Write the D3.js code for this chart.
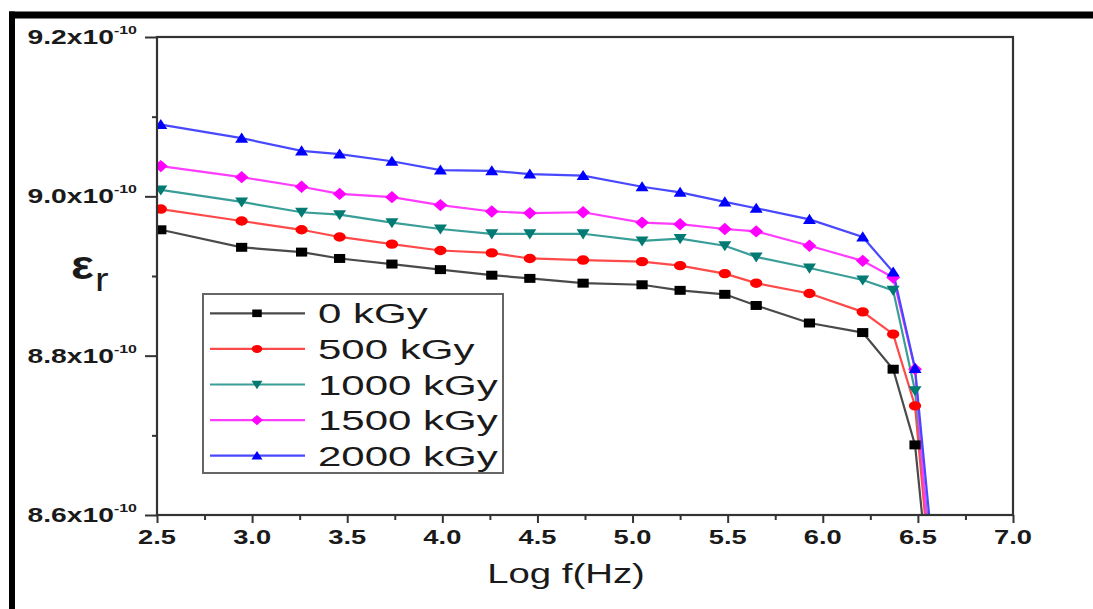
<!DOCTYPE html>
<html>
<head>
<meta charset="utf-8">
<script src="https://cdn.jsdelivr.net/npm/d3@7"></script>
<style>
  html, body { margin: 0; padding: 0; background: #ffffff; }
  svg { display: block; }
  text { font-family: Arial, "Liberation Sans", sans-serif; fill: #1a1a1a; }
</style>
</head>
<body>
<svg id="chart" width="1093" height="609"></svg>
<script>
// ---- data (values in units of 1e-10) ----
const logF = [2.52, 2.945, 3.26, 3.46, 3.735, 3.99, 4.26, 4.46, 4.74, 5.05, 5.25, 5.485, 5.65, 5.93, 6.21, 6.37, 6.485, 6.62];
const series0 = [8.958, 8.936, 8.930, 8.922, 8.915, 8.908, 8.901, 8.897, 8.891, 8.889, 8.882, 8.877, 8.863, 8.841, 8.829, 8.783, 8.688, 8.367];
const series500 = [8.984, 8.969, 8.958, 8.949, 8.940, 8.932, 8.929, 8.922, 8.920, 8.918, 8.913, 8.903, 8.891, 8.878, 8.855, 8.827, 8.737, 8.383];
const series1000 = [9.008, 8.993, 8.980, 8.977, 8.967, 8.959, 8.953, 8.953, 8.953, 8.944, 8.947, 8.938, 8.924, 8.910, 8.895, 8.882, 8.756, 8.423];
const series1500 = [9.038, 9.024, 9.012, 9.003, 8.999, 8.989, 8.981, 8.979, 8.980, 8.967, 8.965, 8.959, 8.956, 8.938, 8.919, 8.898, 8.783, 8.363];
const series2000 = [9.090, 9.073, 9.057, 9.053, 9.044, 9.033, 9.032, 9.028, 9.026, 9.012, 9.005, 8.993, 8.985, 8.971, 8.949, 8.905, 8.784, 8.449];
const seriesNames = ["0 kGy", "500 kGy", "1000 kGy", "1500 kGy", "2000 kGy"];
const xTicks = [2.5, 3.0, 3.5, 4.0, 4.5, 5.0, 5.5, 6.0, 6.5, 7.0];
const yTicks = [8.6, 8.8, 9.0, 9.2];
const yTickLabels = ["8.6x10", "8.8x10", "9.0x10", "9.2x10"];
const yExponent = "-10";
const xTitle = "Log f(Hz)";

// ---- styles ----
const lineColors = ["#4a4a4a", "#ff4a4a", "#3a9e98", "#ff3cff", "#4848ff"];
const markColors = ["#000000", "#ff0000", "#007a72", "#ff00ff", "#0000ff"];
const shapes = ["square", "circle", "tridown", "diamond", "triup"];

const svg = d3.select("#chart");
const plot = { left: 157, right: 1013, top: 37, bottom: 515 };
const x = d3.scaleLinear().domain([2.5, 7.0]).range([plot.left, plot.right]);
const y = d3.scaleLinear().domain([8.6, 9.2]).range([plot.bottom, plot.top]);

const allSeries = [series0, series500, series1000, series1500, series2000];

function markerPath(shape, s) {
  s = s || 1;
  switch (shape) {
    case "square": return `M${-5*s},${-4*s}H${5*s}V${4*s}H${-5*s}Z`;
    case "circle": return `M${-5.5*s},0A${5.5*s},${4.2*s} 0 1,0 ${5.5*s},0A${5.5*s},${4.2*s} 0 1,0 ${-5.5*s},0Z`;
    case "triup": return `M0,${-5*s}L${5.8*s},${4*s}L${-5.8*s},${4*s}Z`;
    case "tridown": return `M0,${5*s}L${5.8*s},${-4*s}L${-5.8*s},${-4*s}Z`;
    case "diamond": return `M0,${-5.5*s}L${6.2*s},0L0,${5.5*s}L${-6.2*s},0Z`;
  }
}

// outer frame
svg.append("line").attr("x1", 9).attr("x2", 1093).attr("y1", 15).attr("y2", 15)
  .attr("stroke", "#000").attr("stroke-width", 7);
svg.append("line").attr("x1", 12).attr("x2", 12).attr("y1", 11.5).attr("y2", 609)
  .attr("stroke", "#000").attr("stroke-width", 6);

// clip
svg.append("defs").append("clipPath").attr("id", "clip")
  .append("rect").attr("x", plot.left).attr("y", plot.top)
  .attr("width", plot.right - plot.left).attr("height", plot.bottom - plot.top);

// series
const g = svg.append("g").attr("clip-path", "url(#clip)");
const line = d3.line().x((d, i) => x(logF[i])).y(d => y(d));
allSeries.forEach((vals, k) => {
  g.append("path").datum(vals).attr("d", line)
    .attr("fill", "none").attr("stroke", lineColors[k]).attr("stroke-width", 2.2);
});
allSeries.forEach((vals, k) => {
  g.selectAll(null).data(vals).enter().append("path")
    .attr("d", markerPath(shapes[k], 1.12))
    .attr("transform", (d, i) => `translate(${x(logF[i])},${y(d)})`)
    .attr("fill", markColors[k]);
});

// axes
const axisColor = "#333";
const xAxis = d3.axisBottom(x).tickValues(xTicks).tickSize(8).tickFormat("");
const xMinor = d3.axisBottom(x).tickValues(xTicks.slice(0, -1).map(v => v + 0.25)).tickSize(5).tickFormat("");
const yAxis = d3.axisLeft(y).tickValues(yTicks).tickSize(12).tickFormat("");
const yMinor = d3.axisLeft(y).tickValues([8.7, 8.9, 9.1]).tickSize(5).tickFormat("");

function styleAxis(sel) {
  sel.select(".domain").remove();
  sel.selectAll("line").attr("stroke", axisColor).attr("stroke-width", 2);
}
svg.append("g").attr("transform", `translate(0,${plot.bottom})`).call(xAxis).call(styleAxis);
svg.append("g").attr("transform", `translate(0,${plot.bottom})`).call(xMinor).call(styleAxis);
svg.append("g").attr("transform", `translate(${plot.left},0)`).call(yAxis).call(styleAxis);
svg.append("g").attr("transform", `translate(${plot.left},0)`).call(yMinor).call(styleAxis);

// frame box
svg.append("rect").attr("x", plot.left).attr("y", plot.top)
  .attr("width", plot.right - plot.left).attr("height", plot.bottom - plot.top)
  .attr("fill", "none").attr("stroke", axisColor).attr("stroke-width", 2.2);

// x tick labels
svg.selectAll(null).data(xTicks).enter().append("text")
  .attr("transform", d => `translate(${x(d)},544) scale(1.4,1)`)
  .attr("text-anchor", "middle").attr("font-size", 19.5).attr("font-weight", "bold")
  .text(d => d.toFixed(1));

// y tick labels
yTicks.forEach((v, i) => {
  const t = svg.append("text")
    .attr("transform", `translate(137,${y(v) + 7}) scale(1.45,1)`)
    .attr("text-anchor", "end").attr("font-size", 19.5).attr("font-weight", "bold");
  t.append("tspan").text(yTickLabels[i]);
  t.append("tspan").attr("font-size", 11).attr("dy", -10).text(yExponent);
});

// axis titles
svg.append("text").attr("transform", "translate(566,583) scale(1.37,1)")
  .attr("text-anchor", "middle").attr("font-size", 28).text(xTitle);
const yt = svg.append("text").attr("transform", "translate(71,279) scale(1.2,1)")
  .attr("font-size", 40).attr("font-weight", "bold");
yt.append("tspan").text("ε");
yt.append("tspan").attr("font-size", 34).attr("font-weight", "normal").attr("dy", 12).attr("dx", 1).text("r");

// legend
const lg = svg.append("g");
lg.append("rect").attr("x", 203).attr("y", 294).attr("width", 300).attr("height", 179)
  .attr("fill", "#fff").attr("stroke", "#666").attr("stroke-width", 2);
seriesNames.forEach((name, k) => {
  const ry = 313.3 + k * 35.6;
  lg.append("line").attr("x1", 210).attr("x2", 305).attr("y1", ry).attr("y2", ry)
    .attr("stroke", lineColors[k]).attr("stroke-width", 2.2);
  lg.append("path").attr("d", markerPath(shapes[k], 0.95))
    .attr("transform", `translate(257,${ry})`).attr("fill", markColors[k]);
  lg.append("text").attr("transform", `translate(318,${ry + 10}) scale(1.5,1)`)
    .attr("font-size", 28).text(name);
});
</script>
</body>
</html>
